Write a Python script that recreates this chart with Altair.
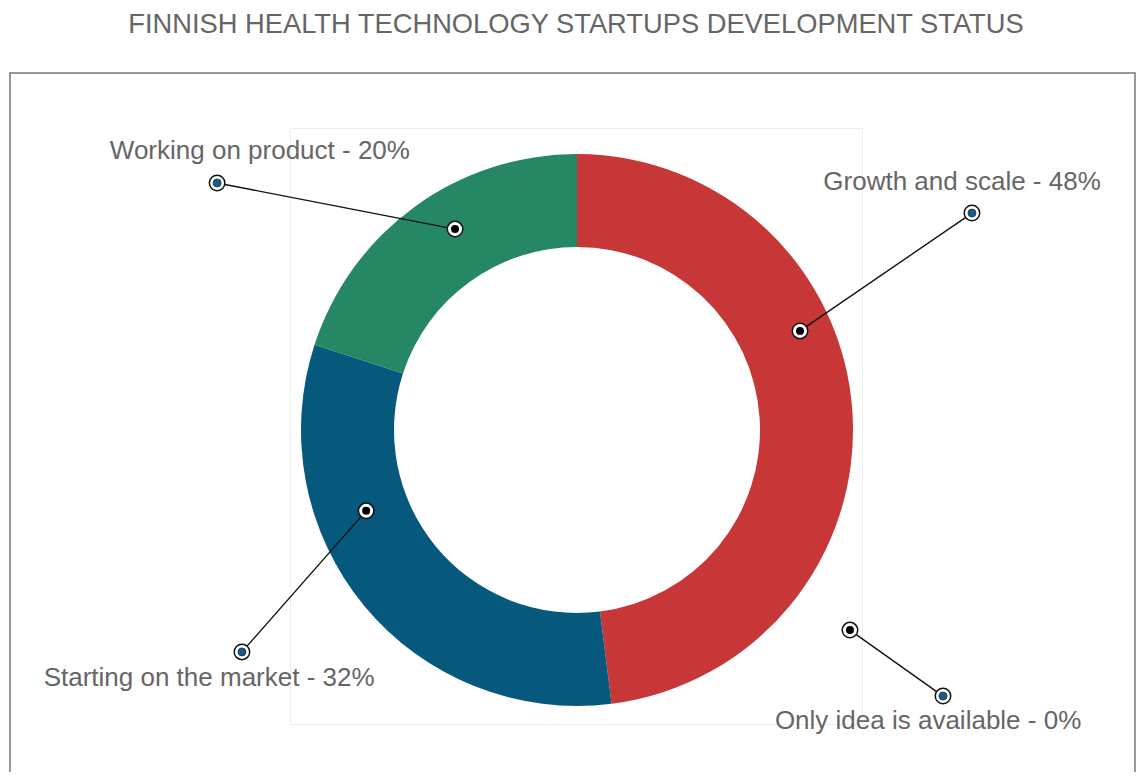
import altair as alt
import pandas as pd

# ---- data ----
categories = ["Growth and scale", "Starting on the market", "Working on product", "Only idea is available"]
shares = [48, 32, 20, 0]
slice_colors = ["#c83737", "#07587d", "#258763", "#888888"]

# annotation anchors, in units of the donut's outer radius, relative to its centre
inner_x = [0.808, -0.764, -0.442, 0.989]
inner_y = [0.359, -0.293, 0.728, -0.725]
outer_x = [1.431, -1.214, -1.304, 1.326]
outer_y = [0.786, -0.804, 0.895, -0.964]
label_x = [1.395, -1.333, -1.149, 1.272]
label_y = [0.899, -0.899, 1.011, -1.054]

df = pd.DataFrame({
    "category": categories,
    "share": shares,
    "ord": list(range(len(categories))),
    "ix": inner_x, "iy": inner_y,
    "ox": outer_x, "oy": outer_y,
    "lx": label_x, "ly": label_y,
})
df["label"] = [f"{c} - {s}%" for c, s in zip(categories, shares)]

FONT = "Liberation Sans"
W, H = 572, 596

xs = alt.Scale(domain=[-1.0399, 1.0326], nice=False, zero=False)
ys = alt.Scale(domain=[-1.0652, 1.0942], nice=False, zero=False)

base = alt.Chart(df)

frame = alt.Chart(pd.DataFrame({"a": [0]})).mark_rect(
    fillOpacity=0, stroke="#777777", strokeWidth=1.5
).encode(
    x=alt.value(-280), x2=alt.value(845), y=alt.value(-55), y2=alt.value(700)
)

donut = base.mark_arc(innerRadius=183, outerRadius=276).encode(
    theta=alt.Theta("share:Q", stack=True),
    order=alt.Order("ord:Q"),
    color=alt.Color("category:N", scale=alt.Scale(domain=categories, range=slice_colors), legend=None),
    x=alt.datum(0, type="quantitative", scale=xs, axis=None),
    y=alt.datum(0, type="quantitative", scale=ys, axis=None),
)

leaders = base.mark_rule(color="#111111", strokeWidth=1.4).encode(
    x=alt.X("ix:Q", scale=xs, axis=None),
    y=alt.Y("iy:Q", scale=ys, axis=None),
    x2="ox:Q",
    y2="oy:Q",
)

inner_ring = base.mark_point(filled=True, fill="white", stroke="#111111", strokeWidth=1.5, size=240, opacity=1, shape="circle").encode(
    x=alt.X("ix:Q", scale=xs, axis=None), y=alt.Y("iy:Q", scale=ys, axis=None)
)
inner_dot = base.mark_point(filled=True, fill="#000000", size=64, opacity=1, shape="circle").encode(
    x=alt.X("ix:Q", scale=xs, axis=None), y=alt.Y("iy:Q", scale=ys, axis=None)
)
outer_ring = base.mark_point(filled=True, fill="white", stroke="#111111", strokeWidth=1.5, size=240, opacity=1, shape="circle").encode(
    x=alt.X("ox:Q", scale=xs, axis=None), y=alt.Y("oy:Q", scale=ys, axis=None)
)
outer_dot = base.mark_point(filled=True, fill="#1b5b87", stroke="#0d3550", strokeWidth=0.8, size=64, opacity=1, shape="circle").encode(
    x=alt.X("ox:Q", scale=xs, axis=None), y=alt.Y("oy:Q", scale=ys, axis=None)
)

labels = base.mark_text(font=FONT, fontSize=26, color="#666666", align="center", baseline="middle").encode(
    x=alt.X("lx:Q", scale=xs, axis=None),
    y=alt.Y("ly:Q", scale=ys, axis=None),
    text="label:N",
)

chart = alt.layer(
    frame, donut, leaders, inner_ring, inner_dot, outer_ring, outer_dot, labels
).properties(
    width=W,
    height=H,
    autosize="none",
    padding={"left": 282, "top": 120, "right": 274, "bottom": 48},
    title=alt.TitleParams(
        "FINNISH HEALTH TECHNOLOGY STARTUPS DEVELOPMENT STATUS",
        font=FONT, fontSize=27.3, fontWeight="normal", color="#666666",
        anchor="middle", offset=34,
    ),
    background="white",
).configure_view(stroke="#eeeeee", strokeWidth=1)

chart.save("out.html", embed_options={"renderer": "svg", "actions": False})
